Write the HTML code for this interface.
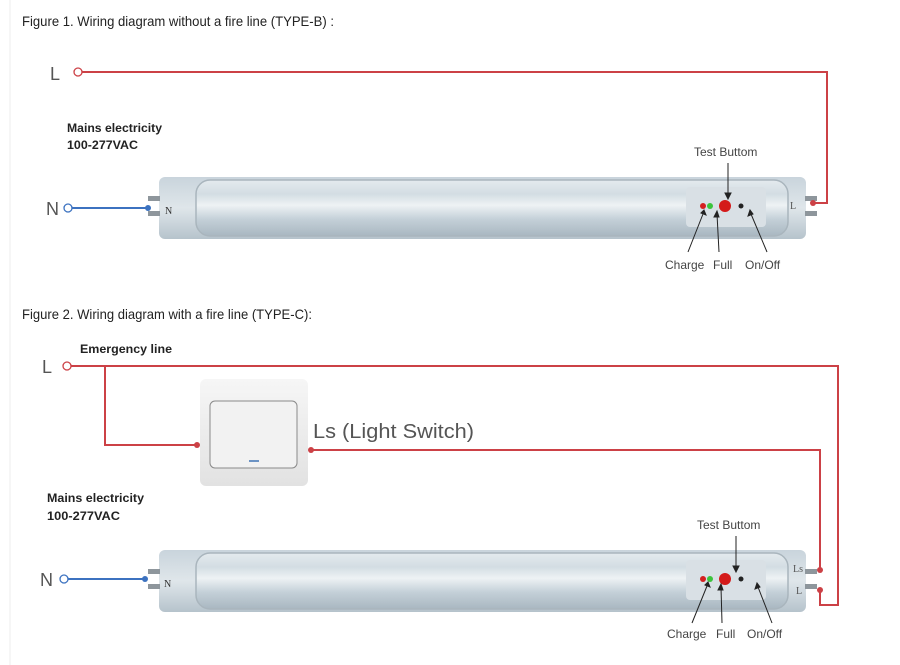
<!DOCTYPE html>
<html><head><meta charset="utf-8"><style>
html,body{margin:0;padding:0;background:#fff;}
svg{display:block;}
</style></head><body>
<svg width="900" height="665" viewBox="0 0 900 665" xmlns="http://www.w3.org/2000/svg">
<defs>
<linearGradient id="glass" x1="0" y1="0" x2="0" y2="1">
<stop offset="0" stop-color="#e4eaee"/><stop offset="0.25" stop-color="#d3dde3"/><stop offset="0.45" stop-color="#eef2f4"/><stop offset="0.7" stop-color="#c4d0d8"/><stop offset="1" stop-color="#a9b7c1"/>
</linearGradient>
<linearGradient id="cap" x1="0" y1="0" x2="0" y2="1">
<stop offset="0" stop-color="#c9d4dc"/><stop offset="0.5" stop-color="#dfe6ea"/><stop offset="1" stop-color="#b6c3cc"/>
</linearGradient>
<linearGradient id="sw" x1="0" y1="0" x2="0" y2="1">
<stop offset="0" stop-color="#f6f6f6"/><stop offset="1" stop-color="#e2e2e2"/>
</linearGradient>
<g id="tube">
<rect x="0" y="0" width="647" height="62" rx="6" fill="url(#cap)"/>
<rect x="37" y="3" width="592" height="56" rx="14" fill="url(#glass)" stroke="#a9b5bd" stroke-width="1.5"/>
<rect x="527" y="10" width="80" height="40" rx="4" fill="#d9e0e5"/>
<rect x="-11" y="19" width="12" height="5" fill="#8e969c"/>
<rect x="-11" y="34" width="12" height="5" fill="#8e969c"/>
<rect x="646" y="19" width="12" height="5" fill="#8e969c"/>
<rect x="646" y="34" width="12" height="5" fill="#8e969c"/>
<circle cx="544" cy="29" r="3" fill="#d42020"/>
<circle cx="551" cy="29" r="3" fill="#3cc43c"/>
<circle cx="566" cy="29" r="6" fill="#d41a1a"/>
<circle cx="582" cy="29" r="2.5" fill="#222"/>
</g>
</defs>
<line x1="10" y1="0" x2="10" y2="665" stroke="#eeeeee" stroke-width="1"/>
<g font-family="'Liberation Sans Narrow','Liberation Sans',sans-serif" font-size="14" fill="#222">
<text x="22" y="26" textLength="312" lengthAdjust="spacingAndGlyphs">Figure 1. Wiring diagram without a fire line (TYPE-B) :</text>
<text x="22" y="319" textLength="290" lengthAdjust="spacingAndGlyphs">Figure 2. Wiring diagram with a fire line (TYPE-C):</text>
</g>

<!-- Figure 1 -->
<use href="#tube" x="159" y="177"/>
<polyline points="82,72 827,72 827,203 813,203" fill="none" stroke="#cc4146" stroke-width="2"/>
<circle cx="78" cy="72" r="4" fill="#fff" stroke="#cc4146" stroke-width="1.3"/>
<circle cx="813" cy="203" r="3" fill="#cc4146"/>
<line x1="72" y1="208" x2="148" y2="208" stroke="#3c72c0" stroke-width="2"/>
<circle cx="68" cy="208" r="4" fill="#fff" stroke="#3c72c0" stroke-width="1.3"/>
<circle cx="148" cy="208" r="3" fill="#3c72c0"/>
<text x="165" y="214" font-family="'Liberation Serif',serif" font-size="10" fill="#333">N</text>
<text x="790" y="209" font-family="'Liberation Serif',serif" font-size="10" fill="#555">L</text>
<g font-family="'Liberation Sans',sans-serif" fill="#444">
<text x="50" y="80" font-size="18" fill="#555">L</text>
<text x="46" y="215" font-size="18" fill="#555">N</text>
<text x="67" y="132" font-size="12" font-weight="bold" fill="#222" textLength="95" lengthAdjust="spacingAndGlyphs">Mains electricity</text>
<text x="67" y="149" font-size="12" font-weight="bold" fill="#222" textLength="71" lengthAdjust="spacingAndGlyphs">100-277VAC</text>
<text x="694" y="156" font-size="12">Test Buttom</text>
<text x="665" y="269" font-size="12">Charge</text>
<text x="713" y="269" font-size="12">Full</text>
<text x="745" y="269" font-size="12">On/Off</text>
</g>
<g stroke="#222" stroke-width="1" fill="#222">
<line x1="728" y1="163" x2="728" y2="196"/><polygon points="725,193 731,193 728,199"/>
<line x1="688" y1="252" x2="703" y2="214"/><polygon points="701,213 706,215 704,210"/>
<line x1="719" y1="252" x2="717" y2="214"/><polygon points="714,217 719,217 717,211"/>
<line x1="767" y1="252" x2="751" y2="214"/><polygon points="748,216 753,214 750,210"/>
</g>

<!-- Figure 2 -->
<use href="#tube" x="159" y="550"/>
<polyline points="71,366 838,366 838,605 820,605 820,590" fill="none" stroke="#cc4146" stroke-width="2"/>
<polyline points="105,366 105,445 197,445" fill="none" stroke="#cc4146" stroke-width="2"/>
<polyline points="311,450 820,450 820,570" fill="none" stroke="#cc4146" stroke-width="2"/>
<circle cx="67" cy="366" r="4" fill="#fff" stroke="#cc4146" stroke-width="1.3"/>
<circle cx="197" cy="445" r="3" fill="#cc4146"/>
<circle cx="311" cy="450" r="3" fill="#cc4146"/>
<circle cx="820" cy="570" r="3" fill="#cc4146"/>
<circle cx="820" cy="590" r="3" fill="#cc4146"/>
<rect x="200" y="379" width="108" height="107" rx="6" fill="url(#sw)"/>
<rect x="210" y="401" width="87" height="67" rx="5" fill="#f2f2f2" stroke="#8a8a8a" stroke-width="1"/>
<line x1="249" y1="461" x2="259" y2="461" stroke="#6c93c4" stroke-width="2"/>
<line x1="68" y1="579" x2="145" y2="579" stroke="#3c72c0" stroke-width="2"/>
<circle cx="64" cy="579" r="4" fill="#fff" stroke="#3c72c0" stroke-width="1.3"/>
<circle cx="145" cy="579" r="3" fill="#3c72c0"/>
<text x="164" y="587" font-family="'Liberation Serif',serif" font-size="10" fill="#333">N</text>
<text x="793" y="572" font-family="'Liberation Serif',serif" font-size="10" fill="#555">Ls</text>
<text x="796" y="594" font-family="'Liberation Serif',serif" font-size="10" fill="#555">L</text>
<g font-family="'Liberation Sans',sans-serif" fill="#444">
<text x="42" y="373" font-size="18" fill="#555">L</text>
<text x="40" y="586" font-size="18" fill="#555">N</text>
<text x="80" y="353" font-size="12" font-weight="bold" fill="#222" textLength="92" lengthAdjust="spacingAndGlyphs">Emergency line</text>
<text x="313" y="438" font-size="20" fill="#555" textLength="161" lengthAdjust="spacingAndGlyphs">Ls (Light Switch)</text>
<text x="47" y="502" font-size="12" font-weight="bold" fill="#222" textLength="97" lengthAdjust="spacingAndGlyphs">Mains electricity</text>
<text x="47" y="520" font-size="12" font-weight="bold" fill="#222" textLength="73" lengthAdjust="spacingAndGlyphs">100-277VAC</text>
<text x="697" y="529" font-size="12">Test Buttom</text>
<text x="667" y="638" font-size="12">Charge</text>
<text x="716" y="638" font-size="12">Full</text>
<text x="747" y="638" font-size="12">On/Off</text>
</g>
<g stroke="#222" stroke-width="1" fill="#222">
<line x1="736" y1="536" x2="736" y2="569"/><polygon points="733,566 739,566 736,572"/>
<line x1="692" y1="623" x2="707" y2="586"/><polygon points="705,585 710,587 708,582"/>
<line x1="722" y1="623" x2="721" y2="587"/><polygon points="718,590 723,590 721,584"/>
<line x1="772" y1="623" x2="758" y2="587"/><polygon points="755,589 760,587 757,583"/>
</g>
</svg>
</body></html>
